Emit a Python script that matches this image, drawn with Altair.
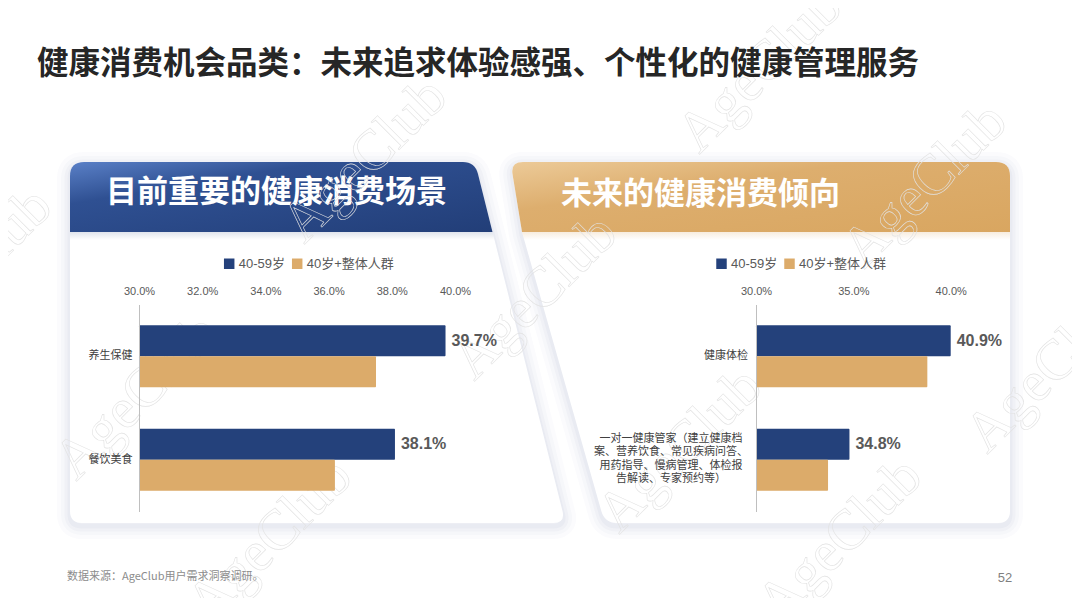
import altair as alt
import pandas as pd

# ---------------- data ----------------
series = ["40-59岁", "40岁+整体人群"]
colors = ["#24417b", "#dcab6a"]

left_categories = ["养生保健", "餐饮美食"]
left_4059 = [39.7, 38.1]
left_all = [37.5, 36.2]
left_ticks = [30, 32, 34, 36, 38, 40]

right_categories = [
    "健康体检",
    "一对一健康管家（建立健康档\n案、营养饮食、常见疾病问答、\n用药指导、慢病管理、体检报\n告解读、专家预约等）",
]
right_4059 = [40.9, 34.8]
right_all = [38.8, 33.7]
right_ticks = [30, 35, 40]

axis_min, axis_max = 30, 40

title_text = "健康消费机会品类：未来追求体验感强、个性化的健康管理服务"
left_header = "目前重要的健康消费场景"
right_header = "未来的健康消费倾向"
source_text = "数据来源：AgeClub用户需求洞察调研。"
page_no = "52"
watermark = "AgeClub"


def make_df(cats, a, b):
    rows = []
    for c, va, vb in zip(cats, a, b):
        rows.append({"category": c, "series": series[0], "value": va})
        rows.append({"category": c, "series": series[1], "value": vb})
    return pd.DataFrame(rows)


left_df = make_df(left_categories, left_4059, left_all)
right_df = make_df(right_categories, right_4059, right_all)

# ---------------- layout helpers ----------------
W, H = 1064, 590
CJK = "Noto Sans CJK SC"
LAT = "Liberation Sans, Noto Sans CJK SC"
one = pd.DataFrame({"k": [0]})


def shape(path, dy=0, **kw):
    return alt.Chart(one).mark_point(shape=path, size=4, opacity=1, **kw).encode(
        x=alt.value(0), y=alt.value(dy)
    )


def label(text, x, y, **kw):
    return alt.Chart(one).mark_text(text=text, **kw).encode(x=alt.value(x), y=alt.value(y))


LC = "M 62 168 Q 62 154 76 154 L 455 154 Q 467 154 470 166 L 554.5 503 Q 557.5 515 545 515 L 74 515 Q 62 515 62 503 Z"
LB = "M 62 168 Q 62 154 76 154 L 455 154 Q 467 154 470 166 L 484.5 224 L 62 224 Z"
RC = "M 504.5 166 Q 502.6 154 515 154 L 988 154 Q 1002 154 1002 168 L 1002 503 Q 1002 515 990 515 L 609 515 Q 596.7 515 593.3 503 L 514 224 Z"
RB = "M 504.5 166 Q 502.6 154 515 154 L 988 154 Q 1002 154 1002 168 L 1002 224 L 514 224 Z"
LS = "M 62 224 L 484.5 224 L 486.5 232 L 62 232 Z"
RS = "M 514 224 L 1002 224 L 1002 232 L 516.3 232 Z"

layers = []
# card shadows
for path in (LC, RC):
    for w, o in ((26, 0.02), (18, 0.025), (11, 0.03), (5, 0.035)):
        layers.append(shape(path, dy=3, filled=False, fillOpacity=0, stroke="#3a4a80",
                            strokeWidth=w, strokeOpacity=o, strokeJoin="round"))
# card bodies
for path in (LC, RC):
    layers.append(shape(path, filled=True, fill="#ffffff", strokeWidth=0))

blue_grad = alt.LinearGradient(
    gradient="linear", x1=0, y1=0, x2=1, y2=1,
    stops=[alt.GradientStop(color="#5a80c7", offset=0),
           alt.GradientStop(color="#2f5092", offset=0.3),
           alt.GradientStop(color="#223e78", offset=1)])
gold_grad = alt.LinearGradient(
    gradient="linear", x1=0, y1=0, x2=1, y2=1,
    stops=[alt.GradientStop(color="#ecca98", offset=0),
           alt.GradientStop(color="#ddae6e", offset=0.35),
           alt.GradientStop(color="#d9a660", offset=1)])
layers.append(shape(LB, filled=True, fill=blue_grad, strokeWidth=0))
layers.append(shape(RB, filled=True, fill=gold_grad, strokeWidth=0))

blue_sh = alt.LinearGradient(
    gradient="linear", x1=0, y1=0, x2=0, y2=1,
    stops=[alt.GradientStop(color="rgba(35,63,122,0.14)", offset=0),
           alt.GradientStop(color="rgba(35,63,122,0)", offset=1)])
gold_sh = alt.LinearGradient(
    gradient="linear", x1=0, y1=0, x2=0, y2=1,
    stops=[alt.GradientStop(color="rgba(220,171,106,0.22)", offset=0),
           alt.GradientStop(color="rgba(220,171,106,0)", offset=1)])
layers.append(shape(LS, filled=True, fill=blue_sh, strokeWidth=0))
layers.append(shape(RS, filled=True, fill=gold_sh, strokeWidth=0))

# banner titles
layers.append(label(left_header, 98, 185, font=CJK, fontSize=31, fontWeight="bold",
                    color="#ffffff", align="left", baseline="middle"))
layers.append(label(right_header, 553, 187, font=CJK, fontSize=31, fontWeight="bold",
                    color="#ffffff", align="left", baseline="middle"))

# watermarks
wm_pos = [(527, 289), (129, 389), (672, 442), (752, 62), (917, 177), (-38, 262),
          (357, 152), (262, 532), (832, 532), (1040, 362)]
for (wx, wy) in wm_pos:
    layers.append(label(watermark, wx, wy, font="Liberation Serif", fontSize=57, angle=315,
                        align="center", baseline="middle", fillOpacity=0, stroke="#e2e2e2",
                        strokeWidth=0.6))


# ---------------- panels ----------------
def panel(df, cats, ticks, xr, yr, legend_x, show_y_labels, extra):
    xs = alt.Scale(domain=[axis_min, axis_max], range=xr, clamp=True, nice=False, zero=False)
    ys = alt.Scale(domain=cats, range=yr, paddingInner=0.4, paddingOuter=0.2)
    os_ = alt.Scale(domain=series, paddingInner=0, paddingOuter=0)
    xaxis = alt.Axis(orient="top", offset=-yr[0], values=ticks,
                     labelExpr="format(datum.value, '.1f') + '%'", domain=False, ticks=False,
                     grid=False, labelFont=LAT, labelFontSize=11, labelColor="#595959",
                     labelPadding=8, labelFlush=False, labelOverlap=False, title=None,
                     zindex=1)
    yaxis = alt.Axis(orient="left", offset=-xr[0], domainColor="#bfbfbf", domainWidth=1,
                     ticks=False, grid=False, labels=show_y_labels, labelFont=CJK,
                     labelFontSize=11, labelColor="#404040", labelPadding=7, title=None,
                     zindex=1)
    base = alt.Chart(df)
    bars = base.mark_bar(cornerRadius=1).encode(
        x=alt.X("value:Q", scale=xs, axis=xaxis),
        x2=alt.datum(axis_min),
        y=alt.Y("category:N", scale=ys, axis=yaxis),
        yOffset=alt.YOffset("series:N", scale=os_),
        color=alt.Color("series:N", scale=alt.Scale(domain=series, range=colors),
                        legend=alt.Legend(orient="none", legendX=legend_x, legendY=249,
                                          direction="horizontal", title=None,
                                          symbolType="square", symbolSize=110,
                                          symbolStrokeWidth=0, symbolOpacity=1,
                                          labelFont=LAT, labelFontSize=13,
                                          labelColor="#595959", labelOffset=3,
                                          columnPadding=5, padding=0)),
    )
    vals = base.transform_filter(alt.datum.series == series[0]).transform_calculate(
        lab="format(datum.value, '.1f') + '%'"
    ).mark_text(align="left", baseline="middle", dx=6, font=LAT, fontSize=16,
                fontWeight="bold", color="#595959").encode(
        x=alt.X("value:Q", scale=xs, axis=xaxis),
        y=alt.Y("category:N", scale=ys, axis=yaxis),
        yOffset=alt.YOffset("series:N", scale=os_),
        text="lab:N",
    )
    parts = [bars, vals]
    for t in extra:
        parts.append(t(ys, yaxis))
    return alt.layer(*parts)


def right_label(idx, x, align, dy):
    def f(ys, yaxis):
        d = pd.DataFrame({"category": [right_categories[idx]]})
        return alt.Chart(d).mark_text(align=align, baseline="middle", lineBreak="\n",
                                      lineHeight=13.4, dy=dy, font=CJK, fontSize=11,
                                      color="#404040").encode(
            x=alt.value(x),
            y=alt.Y("category:N", scale=ys, axis=yaxis),
            text="category:N",
        )
    return f


left_panel = panel(left_df, left_categories, left_ticks, [131, 447], [296.5, 503.5], 214.7,
                   True, [])
right_panel = panel(right_df, right_categories, right_ticks, [748, 942.7], [296.5, 503.5], 707,
                    False, [right_label(0, 740, "right", 0), right_label(1, 663, "center", -21)])

layers.append(left_panel)
layers.append(right_panel)

# title & footer
layers.append(label(title_text, 29, 57, font=CJK, fontSize=31.5, fontWeight="bold",
                    color="#262626", align="left", baseline="middle"))
layers.append(label(source_text, 59, 569, font=CJK, fontSize=11, color="#8c8c8c",
                    align="left", baseline="middle"))
layers.append(label(page_no, 997, 570, font=LAT, fontSize=13, color="#7f7f7f",
                    align="center", baseline="middle"))

chart = alt.layer(*layers).resolve_scale(
    x="independent", y="independent", yOffset="independent", color="independent"
).properties(
    width=W, height=H, autosize=alt.AutoSizeParams(type="none"), padding=0,
    background="#ffffff",
).configure_view(strokeWidth=0)

chart.save("out.html", embed_options={"renderer": "svg", "actions": False})
